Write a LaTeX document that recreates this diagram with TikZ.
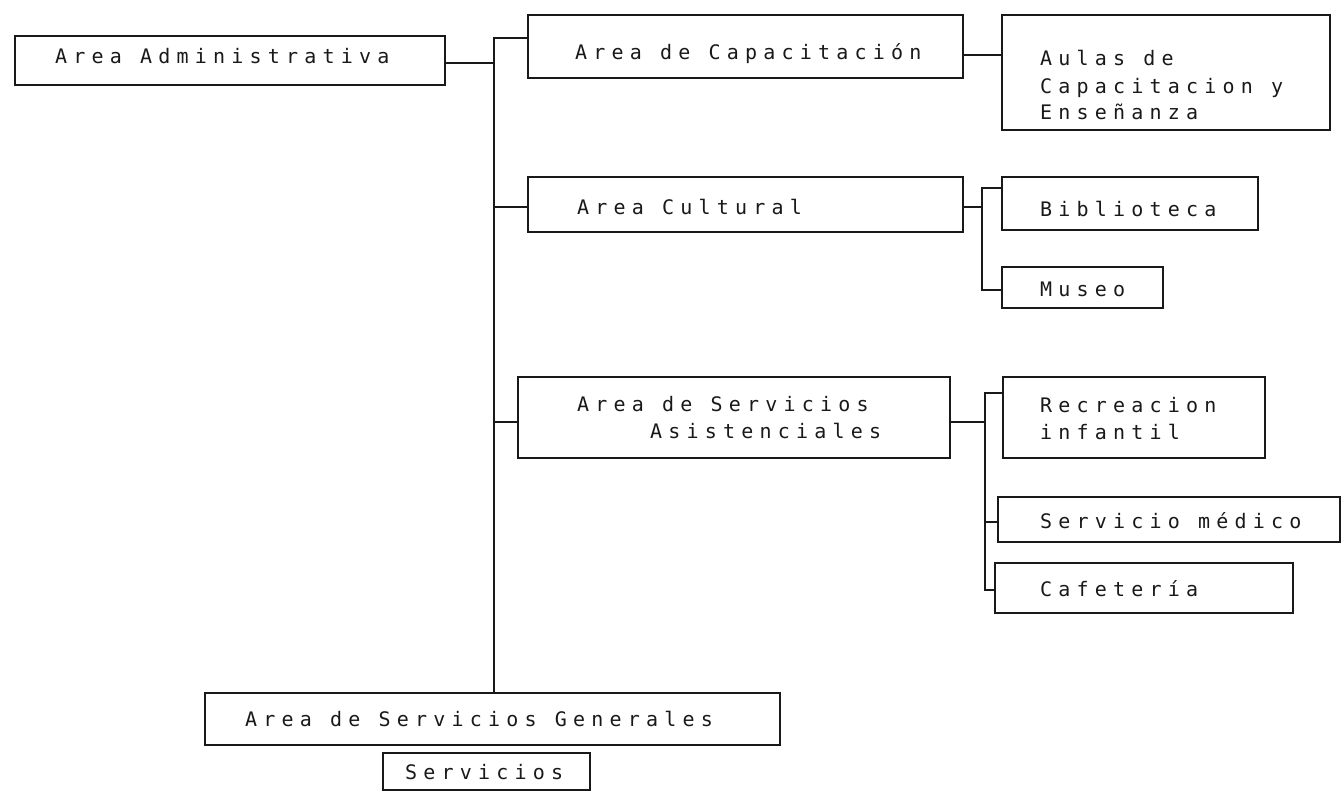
\documentclass[tikz,border=0pt]{standalone}
\usepackage{fontspec}
\newfontfamily\plotfont[LetterSpace=31]{DejaVu Sans Mono}
\tikzset{
  box/.style={draw=black!90, line width=1.7pt, inner sep=0pt, outer sep=0pt, rectangle},
  txt/.style={anchor=base west, inner sep=0pt, font=\plotfont\fontsize{20}{24}\selectfont, text=black!90},
  conn/.style={draw=black!90, line width=1.7pt},
}
% box: name, x1, y1, x2, y2
\newcommand\mkbox[5]{\node[box, minimum width={(#4-#2)*1pt}, minimum height={(#5-#3)*1pt}] (#1) at ({(#2+#4)/2},{(#3+#5)/2}) {};}
% text: name, x, ycenter, text
\newcommand\mktxt[4]{\node[txt] (#1) at (#2,{#3+7}) {#4};}
\begin{document}
\begin{tikzpicture}[x=1pt,y=-1pt]
\useasboundingbox[fill=white] (0,0) rectangle (1342,793);
% boxes
\mkbox{adm}{15}{36}{445}{85}
\mkbox{cap}{528}{15}{963}{78}
\mkbox{aul}{1002}{15}{1330}{130}
\mkbox{cul}{528}{177}{963}{232}
\mkbox{bib}{1002}{177}{1258}{230}
\mkbox{mus}{1002}{267}{1163}{308}
\mkbox{asi}{518}{377}{950}{458}
\mkbox{rec}{1003}{377}{1265}{458}
\mkbox{med}{998}{497}{1340}{542}
\mkbox{caf}{995}{563}{1293}{613}
\mkbox{gen}{205}{693}{780}{745}
\mkbox{ser}{383}{753}{590}{790}
% texts
\mktxt{tadm}{55}{56}{Area Administrativa}
\mktxt{tcap}{575}{52}{Area de Capacitación}
\mktxt{taul1}{1040}{58}{Aulas de}
\mktxt{taul2}{1040}{86}{Capacitacion y}
\mktxt{taul3}{1040}{112}{Enseñanza}
\mktxt{tcul}{577}{207}{Area Cultural}
\mktxt{tbib}{1040}{209}{Biblioteca}
\mktxt{tmus}{1040}{289}{Museo}
\mktxt{tasi1}{577}{404}{Area de Servicios}
\mktxt{tasi2}{650}{431}{Asistenciales}
\mktxt{trec1}{1040}{405}{Recreacion}
\mktxt{trec2}{1040}{432}{infantil}
\mktxt{tmed}{1040}{521}{Servicio médico}
\mktxt{tcaf}{1040}{589}{Cafetería}
\mktxt{tgen}{245}{719}{Area de Servicios Generales}
\mktxt{tser}{405}{772}{Servicios}
% main bus
\coordinate (b0) at (494,38);
\coordinate (b1) at (494,63);
\coordinate (b2) at (494,207);
\coordinate (b3) at (494,422);
\draw[conn] (cap.west |- b0) -- (b0) -- (b0 |- gen.north);
\draw[conn] (adm.east |- b1) -- (b1);
\draw[conn] (b2) -- (cul.west |- b2);
\draw[conn] (b3) -- (asi.west |- b3);
% capacitacion -> aulas
\coordinate (c0) at (963,55);
\draw[conn] (cap.east |- c0) -- (aul.west |- c0);
% cultural sub-bus
\coordinate (s0) at (982,188);
\coordinate (s1) at (982,207);
\coordinate (s2) at (982,290);
\draw[conn] (cul.east |- s1) -- (s1);
\draw[conn] (bib.west |- s0) -- (s0) -- (s2) -- (mus.west |- s2);
% asistenciales sub-bus
\coordinate (a0) at (985,393);
\coordinate (a1) at (985,422);
\coordinate (a2) at (985,522);
\coordinate (a3) at (985,590);
\draw[conn] (asi.east |- a1) -- (a1);
\draw[conn] (rec.west |- a0) -- (a0) -- (a3) -- (caf.west |- a3);
\draw[conn] (a2) -- (med.west |- a2);
\end{tikzpicture}
\end{document}
